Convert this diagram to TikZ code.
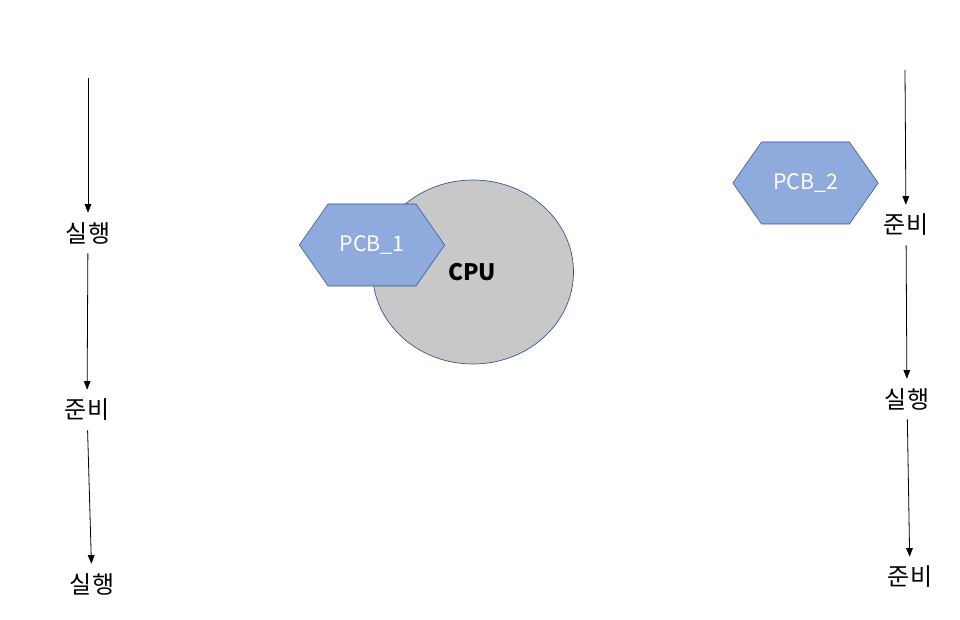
\documentclass[tikz,border=0pt]{standalone}
\usepackage{fontspec}
\setmainfont{Noto Sans CJK KR}
\usetikzlibrary{shapes, arrows.meta, positioning}
\definecolor{pcbblue}{RGB}{143, 170, 220}
\definecolor{edgeblue}{RGB}{47, 82, 143}
\definecolor{cpugray}{RGB}{200, 200, 200}

\begin{document}
\begin{tikzpicture}[
    x=0.75pt, y=-0.75pt,
    state/.style={font=\fontsize{18}{20}\selectfont, minimum height=30pt, inner sep=0pt},
    flow/.style={-{Triangle[length=6.5pt, width=5pt]}, line width=0.6pt},
    pcb/.style={signal, signal to=east and west, signal pointer angle=110, draw=edgeblue, fill=pcbblue, text=white, minimum width=109pt, minimum height=61.5pt, inner sep=0pt, font=\fontsize{16}{18}\selectfont}
]
    \useasboundingbox (0, 0) rectangle (960, 620);

    % left column
    \coordinate (ltop) at (88, 78);
    \node[state] (l1) at (88, 233) {실행};
    \node[state] (l2) at (87, 410) {준비};
    \node[state] (l3) at (92, 584) {실행};
    \draw[flow] (ltop) -- (l1);
    \draw[flow] (l1) -- (l2);
    \draw[flow] (l2) -- (l3);

    % CPU with PCB_1 loaded
    \node[ellipse, draw=edgeblue, fill=cpugray, line width=0.5pt, minimum width=150.75pt, minimum height=138pt] (cpu) at (473, 272) {};
    \node[font=\fontsize{17}{19}\selectfont\bfseries] (cpulabel) at (472, 272) {CPU};
    \node[pcb] (pcb1) at (372, 245) {PCB\_1};
    \node[pcb] (pcb2) at (805.5, 183) {PCB\_2};

    % right column
    \coordinate (rtop) at (905, 70);
    \node[state] (r1) at (906, 225) {준비};
    \node[state] (r2) at (907, 399) {실행};
    \node[state] (r3) at (910, 577) {준비};
    \draw[flow] (rtop) -- (r1);
    \draw[flow] (r1) -- (r2);
    \draw[flow] (r2) -- (r3);
\end{tikzpicture}
\end{document}
